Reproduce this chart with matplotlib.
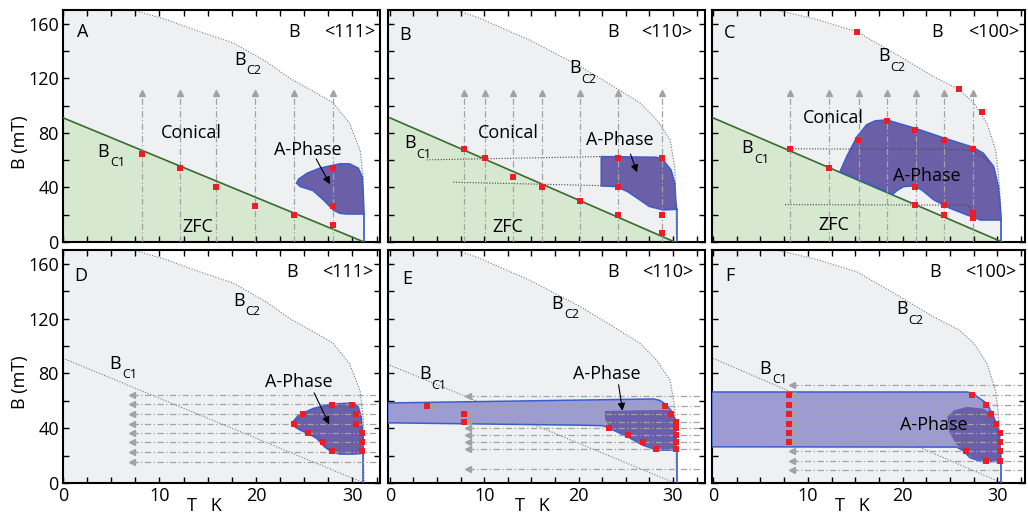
import numpy as np
import matplotlib.pyplot as plt
from matplotlib.ticker import MultipleLocator, FuncFormatter

plt.rcParams['font.family'] = ['Open Sans', 'DejaVu Sans']

# ---- data (T in K, B in mT) ----
# upper critical field Bc2 for the three field directions
bc2_111_T = [7.3, 10.7, 14.2, 17.6, 21.1, 23.5, 26.3, 28.0, 29.7, 30.8, 31.1, 31.2]
bc2_111_B = [170, 163, 154, 146, 132, 120, 109, 102, 87, 67, 48, 0]
bc2_110_T = [7.1, 9.5, 14.8, 20.1, 23.7, 26.5, 28.3, 29.7, 30.2, 30.4]
bc2_110_B = [170, 164, 148, 129, 114, 102, 89.5, 75, 55, 0]
bc2_100_T = [6.7, 11.0, 15.2, 19.7, 23.3, 25.9, 27.5, 28.9, 29.8, 30.1, 30.3, 30.4]
bc2_100_B = [170, 163, 154, 136, 121, 112, 102, 87, 67.5, 50, 31, 0]

# lower critical field Bc1 (straight line: B at T=0, T at B=0)
bc1_111 = [91, 31.2]
bc1_110 = [91, 30.2]
bc1_110_fc = [86, 30.2]
bc1_100 = [91, 30.5]

# --- top row, zero field cooled ---
A_scan_T = [8.2, 12.1, 15.9, 19.9, 23.9, 28.0]
A_sq_T = [8.2, 12.1, 15.9, 19.9, 23.9, 28.0, 28.0, 28.0]
A_sq_B = [64.4, 54.1, 40.1, 26.4, 19.8, 54.1, 26.4, 12.5]
A_phase_T = [24.2, 24.4, 25.3, 26.6, 28.7, 29.7, 30.6, 31.0, 31.1, 31.2, 31.2, 29.4,
             28.7, 28.0, 27.0, 25.9, 24.6]
A_phase_B = [43.1, 46.0, 50.4, 54.1, 57.3, 57.3, 54.1, 48.0, 38.2, 21.0, 20.5, 20.5,
             21.0, 23.5, 30.8, 37.7, 40.6]

B_scan_T = [7.9, 10.1, 13.1, 16.1, 20.1, 24.2, 28.8]
B_sq_T = [7.9, 10.1, 13.1, 16.1, 20.1, 24.2, 24.2, 24.2, 28.8, 28.8, 28.8]
B_sq_B = [68.0, 61.4, 47.5, 40.6, 30.3, 61.4, 40.6, 19.8, 61.4, 19.8, 6.4]
B_phase_T = [22.4, 28.3, 29.1, 29.8, 30.2, 30.3, 30.4, 29.0, 27.5, 26.5, 25.2, 24.0, 22.4]
B_phase_B = [62.6, 62.1, 58.9, 52.8, 43.0, 30.8, 24.0, 23.5, 26.0, 30.8, 36.9, 40.6, 41.1]
B_guide1_T = [3.9, 22.4]
B_guide1_B = [60.2, 62.6]
B_guide2_T = [6.7, 22.4]
B_guide2_B = [43.8, 41.3]

C_scan_T = [8.1, 12.2, 15.4, 18.3, 21.4, 24.4, 27.4]
C_sq_T = [15.2, 25.9, 28.4, 18.3, 21.3, 24.4, 15.3, 27.4, 8.1, 12.2, 21.3, 21.3,
          24.4, 24.4, 27.4, 27.4]
C_sq_B = [153.9, 112.3, 95.2, 88.8, 82.2, 74.9, 74.9, 68.3, 68.3, 54.5, 40.6, 27.2,
          27.2, 19.8, 21.0, 17.4]
C_phase_T = [13.4, 14.1, 15.2, 16.2, 17.1, 18.3, 21.3, 24.4, 27.4, 28.5, 29.6, 30.1,
             30.3, 30.4, 28.2, 26.8, 25.0, 23.3, 22.0, 21.2, 20.1, 19.4, 19.0]
C_phase_B = [51.6, 62.6, 77.3, 85.9, 88.8, 89.5, 83.4, 76.1, 69.5, 65.1, 55.3, 40.6,
             25.9, 16.1, 16.1, 19.8, 24.7, 30.8, 38.2, 41.1, 40.6, 37.7, 35.2]
C_guide1_T = [8.1, 26.5, 27.6, 28.6, 29.2]
C_guide1_B = [68.3, 67.8, 66.0, 62.0, 57.0]
C_guide2_T = [7.6, 26.7, 27.2, 27.4]
C_guide2_B = [27.4, 27.0, 25.0, 21.5]

# --- bottom row, field cooled ---
D_scan_B = [64.0, 57.5, 50.7, 43.4, 36.6, 30.0, 22.8, 15.5]
D_scan_end = [7.2, 7.2, 7.2, 7.2, 7.2, 7.2, 7.2, 7.2]
D_sq_T = [23.9, 24.9, 25.4, 26.9, 27.9, 27.9, 29.9, 30.4, 30.4, 31.0, 31.0, 31.0]
D_sq_B = [43.4, 50.2, 36.8, 29.8, 57.2, 23.0, 57.2, 50.2, 43.4, 36.6, 29.8, 23.0]
D_phase_T = [23.7, 24.4, 25.9, 27.7, 30.1, 30.6, 30.9, 31.1, 31.1, 30.1, 28.7, 27.8,
             27.1, 26.3, 25.4, 24.6, 23.9]
D_phase_B = [43.4, 49.5, 54.3, 57.5, 58.4, 55.5, 48.2, 33.7, 21.6, 21.1, 21.1, 22.8,
             26.4, 32.5, 36.1, 38.5, 41.5]

E_scan_B = [63.3, 56.0, 50.2, 44.6, 39.8, 34.7, 29.8, 25.0, 10.0]
E_scan_end = [8.3, 4.4, 8.3, 8.3, 8.3, 8.3, 8.3, 8.3, 8.3]
E_sq_T = [3.9, 7.9, 7.9, 23.2, 25.2, 26.8, 28.2, 29.2, 29.8, 30.3, 30.3, 30.3, 30.3, 30.3]
E_sq_B = [56.0, 50.2, 44.6, 40.2, 34.7, 29.8, 25.0, 56.0, 50.2, 44.6, 39.8, 34.7, 29.8, 25.0]
E_band_T = [-0.2, 27.9, 28.6, 29.2, 29.8, 30.2, 30.3, 30.4, 28.3, 26.8, 25.2, 23.7,
            22.6, 20.0, -0.2]
E_band_B = [58.4, 61.3, 60.3, 57.5, 53.0, 47.0, 40.0, 24.0, 24.0, 27.6, 33.7, 38.5,
            41.8, 42.2, 43.9]
E_phase_T = [22.8, 29.5, 29.9, 30.2, 30.3, 30.4, 28.3, 26.8, 25.2, 23.9, 23.1, 22.8]
E_phase_B = [52.6, 53.4, 51.5, 46.0, 35.0, 24.2, 24.5, 28.5, 33.5, 38.5, 42.2, 47.0]

F_scan_B = [71.3, 64.0, 57.2, 50.2, 43.4, 36.8, 29.8, 23.0, 16.2, 9.5]
F_scan_end = [8.3, 8.3, 8.3, 8.3, 8.3, 8.3, 8.3, 8.3, 8.3, 8.3]
F_sq_T = [8.0, 8.0, 8.0, 8.0, 8.0, 8.0, 27.3, 28.8, 29.3, 29.8, 30.3, 30.3, 30.3,
          30.3, 26.7, 28.8]
F_sq_B = [64.0, 57.2, 50.2, 43.4, 36.8, 29.8, 64.0, 57.2, 50.2, 43.4, 36.8, 29.8,
          23.0, 16.2, 23.0, 16.2]
F_band_T = [-0.1, 26.8, 27.5, 27.9, 28.9, 29.6, 30.1, 30.3, 30.4, 28.2, 27.1, 26.4,
            25.7, -0.1]
F_band_B = [66.4, 66.4, 65.2, 62.8, 57.9, 48.2, 38.5, 24.0, 15.5, 15.8, 18.5, 23.5,
            26.2, 26.4]
F_phase_T = [24.7, 25.4, 26.8, 28.5, 29.3, 30.0, 30.3, 30.3, 30.4, 28.9, 27.5, 26.4,
             25.6, 24.9]
F_phase_B = [48.2, 53.1, 55.5, 54.3, 50.7, 43.4, 33.7, 24.0, 15.6, 15.6, 17.9, 22.8,
             28.8, 37.3]

# ---- styles ----
GREY_BG = '#eff0f2'
GREEN = '#d6e8d0'
GREEN_LINE = '#3b6a30'
PURPLE = '#6b5fa8'
LILAC = '#9c9cd2'
EDGE = '#3b5ccc'
RED = '#ee1c24'
ARROW = '#a2a2a2'
FS = 13

W, H = 1028, 516
fig = plt.figure(figsize=(W / 100, H / 100), dpi=100)

cols = [(63, 380), (388, 705), (712, 1025)]
rows = [(10, 242), (250, 483)]
xlims = [(0, 32.85), (-0.2, 33.4), (-0.1, 32.9)]


def make_ax(r, c):
    l, rr = cols[c]
    t, b = rows[r]
    ax = fig.add_axes([l / W, 1 - b / H, (rr - l) / W, (b - t) / H])
    ax.set_xlim(*xlims[c])
    ax.set_ylim(0, 170)
    ax.xaxis.set_major_locator(MultipleLocator(10))
    ax.xaxis.set_minor_locator(MultipleLocator(2.5))
    ax.yaxis.set_major_locator(MultipleLocator(40))
    ax.yaxis.set_minor_locator(MultipleLocator(20))
    ax.tick_params(which='both', direction='in', top=True, right=True,
                   length=4, width=1, labelsize=FS, pad=3)
    for s in ax.spines.values():
        s.set_linewidth(1.5)
    if r == 0:
        ax.set_xticklabels([])
    if c > 0:
        ax.set_yticklabels([])
    return ax


def base(ax, bc2_T, bc2_B, bc1, tc_line, top_row):
    x0 = ax.get_xlim()[0]
    ax.fill_betweenx(bc2_B, x0, bc2_T, color=GREY_BG, lw=0, zorder=0)
    ax.plot(bc2_T, bc2_B, ls=(0, (1, 1.5)), color='#777777', lw=0.8, zorder=2)
    b0, tc = bc1
    if top_row:
        ax.fill([x0, x0, 0, tc], [0, b0, b0, 0], color=GREEN, lw=0, zorder=1)
        ax.plot([0, tc], [b0, 0], color=GREEN_LINE, lw=1.2, zorder=3)
    else:
        ax.plot([0, tc], [b0, 0], ls=(0, (1, 1.5)), color='#777777', lw=0.8, zorder=2)
    ax.plot([tc_line[0], tc_line[0]], [tc_line[1], 0], color=EDGE, lw=1.2, zorder=3)


def vscans(ax, ts):
    for t in ts:
        ax.plot([t, t], [0, 107], color=ARROW, lw=0.9, ls=(0, (5, 2, 1, 2)), zorder=4)
        ax.plot(t, 109, marker='^', color=ARROW, ms=5, zorder=4)


def hscans(ax, bs, ends):
    xr = ax.get_xlim()[1] - 0.3
    for b, e in zip(bs, ends):
        ax.plot([e, xr], [b, b], color=ARROW, lw=0.9, ls=(0, (5, 2, 1, 2)), zorder=4)
        ax.plot(e, b, marker='<', color=ARROW, ms=5, zorder=4)


def squares(ax, t, b):
    ax.plot(t, b, 's', color=RED, ms=4.6, mew=0, zorder=6)


def phase(ax, t, b, color=PURPLE, edge=EDGE):
    ax.fill(t, b, facecolor=color, edgecolor=edge, lw=1.1, zorder=3)


def bsub(ax, x, y, sub):
    ax.text(x, y, 'B', fontsize=FS, ha='center', va='center', zorder=7)
    ax.annotate(sub, (x, y), xytext=(5, -8), textcoords='offset points',
                fontsize=9, ha='left', va='center', zorder=7)


def header(ax, letter, xl, yl, xb, xd, direction):
    ax.text(xl, yl, letter, fontsize=FS, ha='center', va='center')
    ax.text(xb, 154, 'B', fontsize=FS, ha='center', va='center')
    ax.text(xd, 154, direction, fontsize=FS, ha='center', va='center')


def arrow(ax, start, end):
    ax.annotate('', xy=end, xytext=start, zorder=7,
                arrowprops=dict(arrowstyle='-|>', color='k', lw=0.8, mutation_scale=11))


def label(ax, x, y, s):
    ax.text(x, y, s, fontsize=FS, ha='center', va='center', zorder=7)


# ---- A ----
ax = make_ax(0, 0)
base(ax, bc2_111_T, bc2_111_B, bc1_111, (31.2, 20.5), True)
phase(ax, A_phase_T, A_phase_B)
vscans(ax, A_scan_T)
squares(ax, A_sq_T, A_sq_B)
header(ax, 'A', 2.0, 154, 23.9, 29.7, '<111>')
bsub(ax, 18.3, 133.6, 'C2')
bsub(ax, 4.2, 66.3, 'C1')
label(ax, 13.3, 79.8, 'Conical')
label(ax, 14.0, 11.2, 'ZFC')
label(ax, 25.4, 67.5, 'A-Phase')
arrow(ax, (26.1, 62.6), (27.8, 40.6))

# ---- B ----
ax = make_ax(0, 1)
base(ax, bc2_110_T, bc2_110_B, bc1_110, (30.4, 24.0), True)
phase(ax, B_phase_T, B_phase_B)
ax.plot(B_guide1_T, B_guide1_B, ls=(0, (1, 1.5)), color='#444444', lw=0.8, zorder=4)
ax.plot(B_guide2_T, B_guide2_B, ls=(0, (1, 1.5)), color='#444444', lw=0.8, zorder=4)
vscans(ax, B_scan_T)
squares(ax, B_sq_T, B_sq_B)
header(ax, 'B', 1.6, 152, 23.7, 29.3, '<110>')
bsub(ax, 19.6, 127.5, 'C2')
bsub(ax, 2.1, 72.4, 'C1')
label(ax, 12.5, 79.8, 'Conical')
label(ax, 12.5, 11.2, 'ZFC')
label(ax, 24.4, 74.9, 'A-Phase')
arrow(ax, (25.4, 66.3), (26.3, 49.2))

# ---- C ----
ax = make_ax(0, 2)
base(ax, bc2_100_T, bc2_100_B, bc1_100, (30.4, 16.1), True)
phase(ax, C_phase_T, C_phase_B)
ax.plot(C_guide1_T, C_guide1_B, ls=(0, (1, 1.5)), color='#444444', lw=0.8, zorder=4)
ax.plot(C_guide2_T, C_guide2_B, ls=(0, (1, 1.5)), color='#444444', lw=0.8, zorder=4)
vscans(ax, C_scan_T)
squares(ax, C_sq_T, C_sq_B)
header(ax, 'C', 1.8, 153, 23.6, 29.6, '<100>')
bsub(ax, 18.0, 136, 'C2')
bsub(ax, 3.6, 68.8, 'C1')
label(ax, 12.7, 90.8, 'Conical')
label(ax, 12.7, 12.5, 'ZFC')
label(ax, 22.6, 48.7, 'A-Phase')

# ---- D ----
ax = make_ax(1, 0)
base(ax, bc2_111_T, bc2_111_B, bc1_111, (31.1, 21.6), False)
phase(ax, D_phase_T, D_phase_B)
hscans(ax, D_scan_B, D_scan_end)
squares(ax, D_sq_T, D_sq_B)
header(ax, 'D', 1.8, 151, 23.7, 29.5, '<111>')
bsub(ax, 18.2, 133, 'C2')
bsub(ax, 5.4, 87, 'C1')
label(ax, 24.4, 73.7, 'A-Phase')
arrow(ax, (25.9, 67.6), (27.7, 41.0))

# ---- E ----
ax = make_ax(1, 1)
base(ax, bc2_110_T, bc2_110_B, bc1_110_fc, (30.4, 24.0), False)
ax.fill(E_band_T, E_band_B, facecolor=LILAC, lw=0, zorder=3)
ax.fill(E_phase_T, E_phase_B, facecolor=PURPLE, lw=0, zorder=3)
ax.fill(E_band_T, E_band_B, fill=False, edgecolor=EDGE, lw=1.1, zorder=3)
hscans(ax, E_scan_B, E_scan_end)
squares(ax, E_sq_T, E_sq_B)
header(ax, 'E', 1.8, 149, 23.7, 29.5, '<110>')
bsub(ax, 17.7, 130.7, 'C2')
bsub(ax, 3.7, 79.3, 'C1')
label(ax, 23.0, 79.3, 'A-Phase')
arrow(ax, (24.2, 73.7), (24.7, 50.7))

# ---- F ----
ax = make_ax(1, 2)
base(ax, bc2_100_T, bc2_100_B, bc1_100, (30.4, 15.5), False)
ax.fill(F_band_T, F_band_B, facecolor=LILAC, lw=0, zorder=3)
ax.fill(F_phase_T, F_phase_B, facecolor=PURPLE, lw=0, zorder=3)
ax.fill(F_band_T, F_band_B, fill=False, edgecolor=EDGE, lw=1.1, zorder=3)
hscans(ax, F_scan_B, F_scan_end)
squares(ax, F_sq_T, F_sq_B)
header(ax, 'F', 1.8, 151, 23.4, 29.3, '<100>')
bsub(ax, 19.9, 127, 'C2')
bsub(ax, 5.5, 83.4, 'C1')
label(ax, 23.3, 42.2, 'A-Phase')

# axis titles
for yc in (142, 382):
    fig.text(20 / W, 1 - yc / H, 'B (mT)', rotation=90, fontsize=FS,
             ha='center', va='center')
for xc in (204, 532, 852):
    fig.text(xc / W, 1 / H, 'T   K', fontsize=FS, ha='center', va='bottom')

fig.savefig('out.png', dpi=100)
